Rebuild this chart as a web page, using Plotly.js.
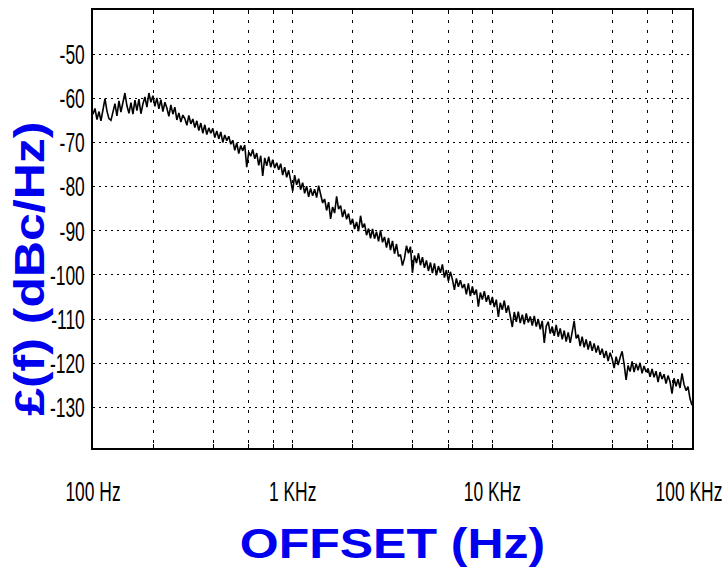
<!DOCTYPE html>
<html>
<head>
<meta charset="utf-8">
<script src="https://cdn.plot.ly/plotly-3.0.1.min.js"></script>
<style>
html,body{margin:0;padding:0;background:#fff;}
#chart{width:725px;height:567px;}
</style>
</head>
<body>
<div id="chart"></div>
<script>
// Offset frequency (Hz)
var offsetHz = [
100,102.3,104.7,107.2,109.6,112.2,114.8,117.5,120.2,123.0,125.9,128.8,131.8,134.9,138.0,141.3,144.5,147.9,151.4,154.9,158.5,162.2,166.0,169.8,173.8,177.8,182.0,186.2,190.5,195.0,199.5,204.2,208.9,213.8,218.8,223.9,229.1,234.4,239.9,245.5,251.2,257.0,263.0,269.2,275.4,281.8,288.4,295.1,302.0,309.0,316.2,323.6,331.1,338.8,346.7,354.8,363.1,371.5,380.2,389.0,398.1,407.4,416.9,426.6,436.5,446.7,457.1,467.7,478.6,489.8,501.2,512.9,524.8,537.0,549.5,562.3,575.4,588.8,602.6,616.6,631.0,645.7,660.7,676.1,691.8,707.9,724.4,741.3,758.6,776.2,794.3,812.8,831.8,851.1,871.0,891.3,912.0,933.3,955.0,977.2,
1000,1023,1047,1072,1096,1122,1148,1175,1202,1230,1259,1288,1318,1349,1380,1413,1445,1479,1514,1549,1585,1622,1660,1698,1738,1778,1820,1862,1905,1950,1995,2042,2089,2138,2188,2239,2291,2344,2399,2455,2512,2570,2630,2692,2754,2818,2884,2951,3020,3090,3162,3236,3311,3388,3467,3548,3631,3715,3802,3890,3981,4074,4169,4266,4365,4467,4571,4677,4786,4898,5012,5129,5248,5370,5495,5623,5754,5888,6026,6166,6310,6457,6607,6761,6918,7079,7244,7413,7586,7762,7943,8128,8318,8511,8710,8913,9120,9333,9550,9772,
10000,10230,10470,10720,10960,11220,11480,11750,12020,12300,12590,12880,13180,13490,13800,14130,14450,14790,15140,15490,15850,16220,16600,16980,17380,17780,18200,18620,19050,19500,19950,20420,20890,21380,21880,22390,22910,23440,23990,24550,25120,25700,26300,26920,27540,28180,28840,29510,30200,30900,31620,32360,33110,33880,34670,35480,36310,37150,38020,38900,39810,40740,41690,42660,43650,44670,45710,46770,47860,48980,50120,51290,52480,53700,54950,56230,57540,58880,60260,61660,63100,64570,66070,67610,69180,70790,72440,74130,75860,77620,79430,81280,83180,85110,87100,89130,91200,93330,95500,97720,100000
];
// Phase noise L(f) in dBc/Hz
var phaseNoise = [
-63.6,-62.3,-64.8,-63.0,-65.1,-62.2,-60.1,-62.9,-64.6,-65.0,
-63.3,-61.2,-64.0,-60.6,-63.1,-60.9,-58.8,-61.7,-63.4,-61.0,
-63.6,-60.4,-62.8,-60.2,-63.5,-61.3,-59.7,-62.0,-58.8,-60.9,
-59.4,-61.8,-59.9,-62.4,-60.3,-63.0,-60.9,-62.2,-64.1,-61.5,
-63.6,-62.0,-64.9,-63.3,-65.4,-63.8,-64.6,-66.1,-63.9,-65.8,
-64.7,-66.6,-65.1,-67.3,-65.6,-67.9,-66.0,-68.2,-66.7,-67.9,
-66.8,-68.9,-67.4,-69.2,-67.6,-70.0,-68.3,-69.6,-68.6,-70.4,
-69.5,-71.8,-70.1,-72.5,-70.7,-71.9,-70.6,-75.6,-72.2,-73.1,
-71.6,-73.7,-72.4,-75.2,-73.0,-77.6,-73.5,-75.3,-73.2,-75.6,
-73.9,-75.8,-74.6,-76.2,-74.8,-77.4,-75.6,-77.9,-76.3,-78.6,
-81.0,-77.4,-79.6,-78.2,-80.7,-79.1,-81.5,-79.9,-82.3,-80.4,
-82.1,-80.6,-82.5,-79.8,-81.9,-83.7,-82.8,-85.4,-83.5,-87.3,
-84.6,-86.0,-82.2,-85.1,-84.3,-86.9,-85.2,-87.4,-86.1,-88.6,
-87.3,-89.6,-88.0,-90.1,-86.6,-89.3,-88.4,-91.0,-89.5,-91.7,
-89.6,-91.8,-90.2,-92.4,-89.9,-92.6,-91.4,-93.8,-91.6,-94.4,
-92.3,-95.2,-93.0,-95.8,-95.4,-97.9,-96.2,-93.4,-95.1,-93.6,
-99.5,-95.6,-97.3,-95.1,-97.8,-96.0,-98.4,-96.7,-99.1,-97.2,
-99.6,-97.4,-100.1,-98.0,-99.5,-97.6,-100.6,-98.9,-101.4,-99.3,
-101.0,-103.4,-100.8,-102.7,-101.2,-103.0,-102.1,-104.4,-101.9,-104.8,
-102.6,-104.5,-103.3,-107.2,-104.0,-105.6,-103.7,-106.1,-104.6,-106.8,
-105.0,-107.3,-105.6,-109.5,-106.3,-107.9,-105.8,-108.6,-106.9,-109.2,
-111.8,-108.4,-110.6,-108.3,-110.9,-109.0,-111.2,-108.7,-110.8,-109.4,
-111.5,-109.3,-111.7,-110.0,-112.3,-110.4,-115.4,-111.6,-110.6,-113.3,
-111.7,-113.8,-111.3,-114.0,-112.1,-114.6,-112.6,-115.1,-113.0,-115.4,
-112.8,-110.4,-114.4,-113.5,-116.1,-114.0,-116.4,-114.6,-116.9,-115.0,
-117.2,-115.5,-117.6,-116.0,-118.1,-116.7,-118.8,-117.2,-119.5,-117.6,
-119.0,-121.1,-118.5,-120.4,-118.7,-117.3,-120.2,-123.8,-120.5,-121.9,
-119.6,-122.0,-120.1,-121.6,-119.9,-122.3,-120.6,-122.0,-121.2,-123.1,
-121.3,-123.2,-121.8,-124.3,-122.0,-123.6,-122.5,-124.6,-122.8,-124.2,
-126.9,-123.4,-125.2,-123.6,-125.6,-122.3,-124.8,-126.2,-125.3,-128.0,
-129.5
];
var xTickVals = [100,200,400,600,800,1000,2000,4000,6000,8000,10000,20000,40000,60000,80000,100000];
var xTickText = ["100 Hz","","","","","1 KHz","","","","","10 KHz","","","","","100 KHz"];
var yTickVals = [-130,-120,-110,-100,-90,-80,-70,-60,-50];
var yTickText = ["-130","-120","-110","-100","-90","-80","-70","-60","-50"];
var xTitle = "OFFSET (Hz)";
var yTitle = "£(f) (dBc/Hz)";

var TICK_SIZE = 21;
var tickFont = {family: "Liberation Sans Narrow, Arial Narrow, Liberation Sans, Arial, sans-serif", size: TICK_SIZE, color: "#000"};
var titleFont = {family: "Liberation Sans, Arial, sans-serif", size: 42, color: "#0000ee", weight: "bold"};

var trace = {
  x: offsetHz, y: phaseNoise, type: "scatter", mode: "lines",
  line: {color: "#000", width: 1.6}, hoverinfo: "x+y", showlegend: false
};

var layout = {
  width: 725, height: 567,
  margin: {l: 93, r: 33, t: 10, b: 119},
  paper_bgcolor: "#fff", plot_bgcolor: "#fff",
  xaxis: {
    type: "log", range: [2, 5],
    tickvals: xTickVals, ticktext: xTickText,
    showgrid: true, gridcolor: "#000", gridwidth: 1, griddash: "3px,7px",
    ticks: "inside", ticklen: 4, tickcolor: "#000", tickwidth: 1,
    showline: true, linecolor: "#000", linewidth: 2, mirror: "ticks",
    zeroline: false, tickfont: tickFont, ticklabelstandoff: 23,
    ticklabeloverflow: "allow",
    title: {text: xTitle, font: titleFont, standoff: 31},
    automargin: false
  },
  yaxis: {
    range: [-139.2, -40],
    tickvals: yTickVals, ticktext: yTickText,
    showgrid: true, gridcolor: "#000", gridwidth: 1, griddash: "2px,4px",
    ticks: "", showline: true, linecolor: "#000", linewidth: 2, mirror: true,
    zeroline: false, tickfont: tickFont, ticklabelstandoff: 2,
    automargin: false
  },
  annotations: [{
    text: yTitle, xref: "paper", yref: "paper", x: -0.106, y: 0.409,
    xanchor: "center", yanchor: "middle", textangle: -90, showarrow: false,
    font: titleFont
  }]
};

// The reference draws tall, narrow tick labels and wide title lettering:
// reshape the drawn text elements in place (scaling about their anchor points).
var TICK_SX = 0.83, TICK_SY = 1.33, TITLE_SX = 1.19;
function reshape(t, ax, cy, sx, sy, dx) {
  var cur = t.getAttribute("transform") || "";
  if (t.getAttribute("data-st") === cur) return;
  var nt = cur + " translate(" + (ax + dx) + "," + cy + ") scale(" + sx + "," + sy + ") translate(" + (-ax) + "," + (-cy) + ")";
  t.setAttribute("transform", nt);
  t.setAttribute("data-st", nt);
}
function reshapeAll() {
  document.querySelectorAll("#chart g.xtick text, #chart g.ytick text").forEach(function (t) {
    if (!t.textContent) return;
    var ax = parseFloat(t.getAttribute("x")) || 0;
    var cy = (parseFloat(t.getAttribute("y")) || 0) - 0.36 * TICK_SIZE;
    reshape(t, ax, cy, TICK_SX, TICK_SY, t.textContent === "100 KHz" ? -3 : 0);
  });
  document.querySelectorAll("#chart text.xtitle, #chart text.annotation-text").forEach(function (t) {
    var ax = parseFloat(t.getAttribute("x")) || 0;
    reshape(t, ax, 0, TITLE_SX, 1, 0);
  });
}

var gd = document.getElementById("chart");
Plotly.newPlot(gd, [trace], layout, {displayModeBar: false, staticPlot: true}).then(function () {
  reshapeAll();
  gd.on("plotly_afterplot", reshapeAll);
  [0, 50, 200, 600, 1500].forEach(function (ms) { setTimeout(reshapeAll, ms); });
});
</script>
</body>
</html>
